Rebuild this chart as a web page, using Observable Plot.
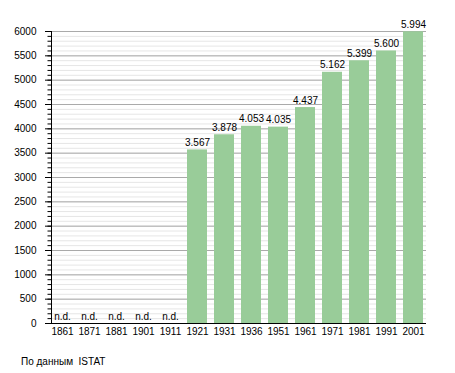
<!DOCTYPE html>
<html><head><meta charset="utf-8">
<script src="https://cdn.jsdelivr.net/npm/d3@7"></script>
<script src="https://cdn.jsdelivr.net/npm/@observablehq/plot@0.6"></script>
<style>
body{margin:0;background:#fff;font-family:"Liberation Sans",Arial,sans-serif}
#chart{position:absolute;left:0;top:0}
#caption{position:absolute;left:21px;top:356px;font-size:10px;white-space:pre;color:#000;font-family:"Liberation Sans",Arial,sans-serif}
</style></head><body>
<div id="chart"></div>
<div id="caption">По данным  ISTAT</div>
<script>
const years = ["1861","1871","1881","1901","1911","1921","1931","1936","1951","1961","1971","1981","1991","2001"];
const population = [null,null,null,null,null,3567,3878,4053,4035,4437,5162,5399,5600,5994];
const majorTicks = [0,500,1000,1500,2000,2500,3000,3500,4000,4500,5000,5500,6000];
const minorTicks = d3.range(0, 6001, 100);
const missingLabel = "n.d.";

const data = years.map((y, i) => ({year: y, value: population[i]}));
const fmt = d3.formatLocale({decimal: ",", thousands: ".", grouping: [3], currency: ["", ""]}).format(",");

const chart = Plot.plot({
  width: 455,
  height: 345,
  marginLeft: 51,
  marginRight: 29,
  marginTop: 31,
  marginBottom: 22,
  style: {fontSize: "10px", fontFamily: "'Liberation Sans', Arial, sans-serif", color: "#000", background: "#fff"},
  x: {domain: years, range: [45.3, 429.7], paddingInner: 0.246, paddingOuter: 0.123, label: null},
  y: {domain: [0, 6000], label: null},
  marks: [
    Plot.ruleY(minorTicks, {stroke: "#e6e6e6"}),
    Plot.ruleY(majorTicks, {stroke: "#aaaaaa"}),
    Plot.barY(data.filter(d => d.value != null), {x: "year", y: "value", fill: "#99cc99"}),
    Plot.text(data, {x: "year", y: d => d.value ?? 0, text: d => d.value == null ? missingLabel : fmt(d.value), dy: -4, lineAnchor: "bottom", fill: "#000"}),
    Plot.axisY(minorTicks, {tickSize: 3.5, text: null}),
    Plot.axisY(majorTicks, {tickSize: 6, tickPadding: 9, tickFormat: d => String(d)}),
    Plot.axisX({tickSize: 0, tickPadding: 4}),
    Plot.ruleY([0], {stroke: "#000"}),
    Plot.frame({anchor: "left", stroke: "#000"})
  ]
});
document.getElementById("chart").append(chart);
</script>
</body></html>
